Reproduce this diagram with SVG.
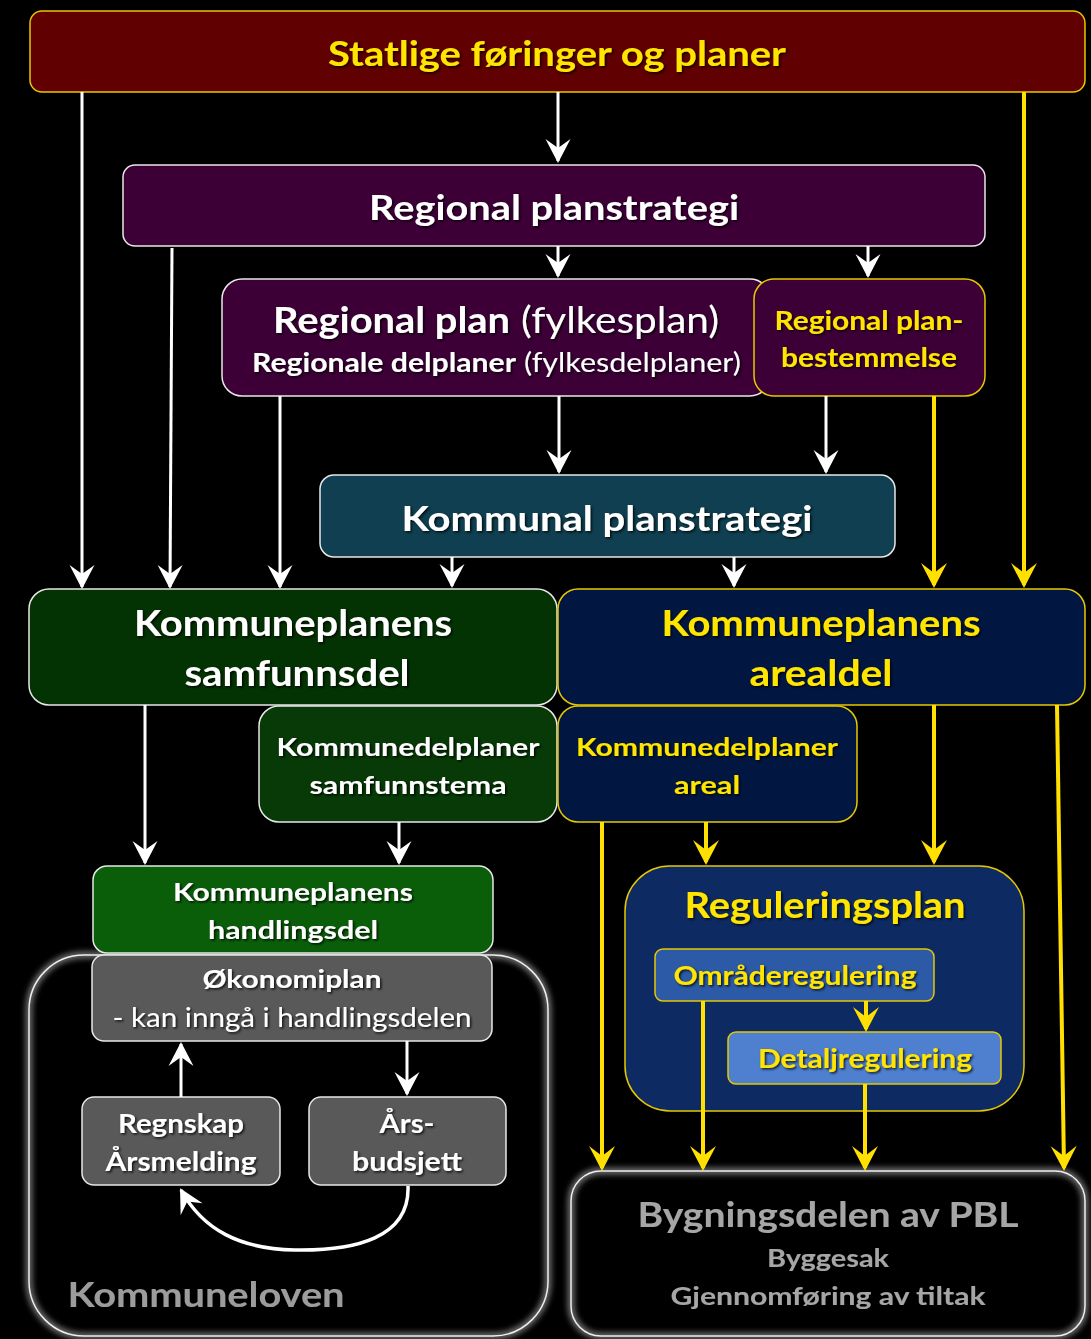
<svg xmlns="http://www.w3.org/2000/svg" width="1091" height="1339" viewBox="0 0 1091 1339">
<defs>
<style>
text{font-family:Lato,"Open Sans","Liberation Sans",sans-serif;text-anchor:middle;filter:url(#sh)}
.b{font-weight:bold}
.n{font-weight:normal}
.w{fill:#ffffff}
.y{fill:#ffe500}
.g{fill:#9c9c9c}
.bw{stroke:#e8e8e8;stroke-width:1.5}
.by{stroke:#e6c800;stroke-width:1.5}
.cw{fill:none;stroke:#ffffff;stroke-width:3}
.cy{fill:none;stroke:#ffe000;stroke-width:4}
</style>
<filter id="sh" x="-5%" y="-20%" width="110%" height="150%">
<feDropShadow dx="1.5" dy="1.5" stdDeviation="1.2" flood-color="#000" flood-opacity="0.8"/>
</filter>
<filter id="glow" x="-10%" y="-10%" width="120%" height="120%">
<feGaussianBlur stdDeviation="3"/>
</filter>
<marker id="aw" viewBox="-28 -15 32 30" refX="-2" refY="0" markerWidth="32" markerHeight="30" markerUnits="userSpaceOnUse" orient="auto">
<path d="M0,0 L-24,-12.5 L-15,0 L-24,12.5 Z" fill="#ffffff"/>
</marker>
<marker id="ay" viewBox="-28 -15 32 30" refX="-3" refY="0" markerWidth="32" markerHeight="30" markerUnits="userSpaceOnUse" orient="auto">
<path d="M0,0 L-25,-13 L-15,0 L-25,13 Z" fill="#ffe000"/>
</marker>
</defs>
<rect x="0" y="0" width="1091" height="1339" fill="#000000"/>

<g id="kommuneloven">
<rect x="29" y="955" width="519" height="381" rx="55" fill="#000"/>
<rect x="29" y="955" width="519" height="381" rx="55" fill="none" stroke="#ffffff" stroke-width="5" opacity="0.6" filter="url(#glow)"/>
<rect x="29" y="955" width="519" height="381" rx="55" fill="none" stroke="#eeeeee" stroke-width="1.5"/>
<text x="206" y="1307" class="b g" font-size="35" textLength="277" lengthAdjust="spacingAndGlyphs">Kommuneloven</text>
</g>

<g id="bygningsdelen">
<rect x="571" y="1171" width="514" height="165" rx="30" fill="#000"/>
<rect x="571" y="1171" width="514" height="165" rx="30" fill="none" stroke="#ffffff" stroke-width="5" opacity="0.6" filter="url(#glow)"/>
<rect x="571" y="1171" width="514" height="165" rx="30" fill="none" stroke="#eeeeee" stroke-width="1.5"/>
<text x="828" y="1227" class="b" fill="#a6a6a6" font-size="35" textLength="381" lengthAdjust="spacingAndGlyphs">Bygningsdelen av PBL</text>
<text x="828" y="1267" class="b" fill="#a6a6a6" font-size="25" textLength="122" lengthAdjust="spacingAndGlyphs">Byggesak</text>
<text x="828" y="1305" class="b" fill="#a6a6a6" font-size="25" textLength="315" lengthAdjust="spacingAndGlyphs">Gjennomføring av tiltak</text>
</g>

<g id="statlige">
<rect x="30" y="11" width="1055" height="81" rx="12" fill="#600000" class="by"/>
<text x="557" y="66" class="b y" font-size="34" textLength="458" lengthAdjust="spacingAndGlyphs">Statlige føringer og planer</text>
</g>

<g id="regional-planstrategi">
<rect x="123" y="165" width="862" height="81" rx="12" fill="#3c0037" class="bw"/>
<text x="554" y="220" class="b w" font-size="34" textLength="370" lengthAdjust="spacingAndGlyphs">Regional planstrategi</text>
</g>

<g id="regional-plan">
<rect x="222" y="279" width="548" height="117" rx="20" fill="#3c0037" class="bw"/>
<text x="273" y="333" class="b w" font-size="37" style="text-anchor:start" textLength="237" lengthAdjust="spacingAndGlyphs">Regional plan</text>
<text x="521" y="333" class="n w" font-size="37" style="text-anchor:start" textLength="198" lengthAdjust="spacingAndGlyphs">(fylkesplan)</text>
<text x="252" y="372" class="b w" font-size="26" style="text-anchor:start" textLength="264" lengthAdjust="spacingAndGlyphs">Regionale delplaner</text>
<text x="524" y="372" class="n w" font-size="26" style="text-anchor:start" textLength="217" lengthAdjust="spacingAndGlyphs">(fylkesdelplaner)</text>
</g>

<g id="regional-planbestemmelse">
<rect x="754" y="279" width="231" height="117" rx="20" fill="#3c0037" class="by"/>
<text x="869" y="330" class="b y" font-size="26" textLength="189" lengthAdjust="spacingAndGlyphs">Regional plan-</text>
<text x="869" y="367" class="b y" font-size="26" textLength="176" lengthAdjust="spacingAndGlyphs">bestemmelse</text>
</g>

<g id="kommunal-planstrategi">
<rect x="320" y="475" width="575" height="82" rx="14" fill="#0f3f50" class="bw"/>
<text x="607" y="531" class="b w" font-size="34" textLength="411" lengthAdjust="spacingAndGlyphs">Kommunal planstrategi</text>
</g>

<g id="samfunnsdel">
<rect x="29" y="589" width="528" height="116" rx="20" fill="#033203" class="bw"/>
<text x="293" y="636" class="b w" font-size="36" textLength="318" lengthAdjust="spacingAndGlyphs">Kommuneplanens</text>
<text x="297" y="686" class="b w" font-size="36" textLength="225" lengthAdjust="spacingAndGlyphs">samfunnsdel</text>
</g>

<g id="arealdel">
<rect x="558" y="589" width="527" height="116" rx="20" fill="#011741" class="by"/>
<text x="821" y="636" class="b y" font-size="36" textLength="319" lengthAdjust="spacingAndGlyphs">Kommuneplanens</text>
<text x="821" y="686" class="b y" font-size="36" textLength="143" lengthAdjust="spacingAndGlyphs">arealdel</text>
</g>

<g id="kommunedelplaner-samfunnstema">
<rect x="259" y="706" width="298" height="116" rx="20" fill="#073a07" class="bw"/>
<text x="408" y="756" class="b w" font-size="25" textLength="263" lengthAdjust="spacingAndGlyphs">Kommunedelplaner</text>
<text x="408" y="794" class="b w" font-size="25" textLength="197" lengthAdjust="spacingAndGlyphs">samfunnstema</text>
</g>

<g id="kommunedelplaner-areal">
<rect x="558" y="706" width="299" height="116" rx="20" fill="#011741" class="by"/>
<text x="707" y="756" class="b y" font-size="25" textLength="262" lengthAdjust="spacingAndGlyphs">Kommunedelplaner</text>
<text x="707" y="794" class="b y" font-size="25" textLength="66" lengthAdjust="spacingAndGlyphs">areal</text>
</g>

<g id="handlingsdel">
<rect x="93" y="866" width="400" height="87" rx="14" fill="#0a5e0a" class="bw"/>
<text x="293" y="901" class="b w" font-size="25" textLength="240" lengthAdjust="spacingAndGlyphs">Kommuneplanens</text>
<text x="293" y="939" class="b w" font-size="25" textLength="170" lengthAdjust="spacingAndGlyphs">handlingsdel</text>
</g>

<g id="okonomiplan">
<rect x="92" y="955" width="400" height="86" rx="12" fill="#595959" class="bw"/>
<text x="292" y="988" class="b w" font-size="25" textLength="179" lengthAdjust="spacingAndGlyphs">Økonomiplan</text>
<text x="292" y="1027" class="n w" font-size="26" textLength="359" lengthAdjust="spacingAndGlyphs">- kan inngå i handlingsdelen</text>
</g>

<g id="regnskap">
<rect x="82" y="1097" width="198" height="88" rx="12" fill="#595959" class="bw"/>
<text x="181" y="1133" class="b w" font-size="26" textLength="126" lengthAdjust="spacingAndGlyphs">Regnskap</text>
<text x="181" y="1171" class="b w" font-size="26" textLength="151" lengthAdjust="spacingAndGlyphs">Årsmelding</text>
</g>

<g id="arsbudsjett">
<rect x="309" y="1097" width="197" height="88" rx="12" fill="#595959" class="bw"/>
<text x="407" y="1133" class="b w" font-size="26" textLength="55" lengthAdjust="spacingAndGlyphs">Års-</text>
<text x="407" y="1171" class="b w" font-size="26" textLength="110" lengthAdjust="spacingAndGlyphs">budsjett</text>
</g>

<g id="reguleringsplan">
<rect x="625" y="866" width="399" height="245" rx="45" fill="#0d2a62" class="by"/>
<text x="825" y="918" class="b y" font-size="36" textLength="281" lengthAdjust="spacingAndGlyphs">Reguleringsplan</text>
</g>

<g id="omraderegulering">
<rect x="655" y="949" width="279" height="52" rx="8" fill="#2c5aa6" class="by"/>
<text x="795" y="985" class="b y" font-size="26" textLength="243" lengthAdjust="spacingAndGlyphs">Områderegulering</text>
</g>

<g id="detaljregulering">
<rect x="728" y="1032" width="273" height="52" rx="8" fill="#4f80cf" class="by"/>
<text x="865" y="1068" class="b y" font-size="26" textLength="214" lengthAdjust="spacingAndGlyphs">Detaljregulering</text>
</g>

<g id="connectors">
<path class="cw" marker-end="url(#aw)" d="M82,92 L82,587"/>
<path class="cw" marker-end="url(#aw)" d="M558,92 L558,161"/>
<path class="cw" marker-end="url(#aw)" d="M172,248 L170,587"/>
<path class="cw" marker-end="url(#aw)" d="M558,246 L558,276"/>
<path class="cw" marker-end="url(#aw)" d="M868,246 L868,276"/>
<path class="cw" marker-end="url(#aw)" d="M280,396 L280,587"/>
<path class="cw" marker-end="url(#aw)" d="M559,396 L559,472"/>
<path class="cw" marker-end="url(#aw)" d="M826,396 L826,472"/>
<path class="cw" marker-end="url(#aw)" d="M452,557 L452,586"/>
<path class="cw" marker-end="url(#aw)" d="M734,557 L734,586"/>
<path class="cw" marker-end="url(#aw)" d="M145,705 L145,863"/>
<path class="cw" marker-end="url(#aw)" d="M399,822 L399,863"/>
<path class="cw" marker-end="url(#aw)" d="M181,1097 L181,1044"/>
<path class="cw" marker-end="url(#aw)" d="M407,1041 L407,1094"/>
<path class="cw" style="stroke-width:3.5" marker-end="url(#aw)" d="M408,1186 C410,1238 355,1251 295,1250 C240,1249 203,1230 181,1190"/>
<path class="cy" marker-end="url(#ay)" d="M1024,92 L1024,585"/>
<path class="cy" marker-end="url(#ay)" d="M934,396 L934,585"/>
<path class="cy" marker-end="url(#ay)" d="M934,705 L934,862"/>
<path class="cy" marker-end="url(#ay)" d="M706,822 L706,862"/>
<path class="cy" marker-end="url(#ay)" d="M602,822 L602,1168"/>
<path class="cy" marker-end="url(#ay)" d="M1057,705 L1064,1168"/>
<path class="cy" marker-end="url(#ay)" d="M866,1001 L866,1029"/>
<path class="cy" marker-end="url(#ay)" d="M703,1001 L703,1168"/>
<path class="cy" marker-end="url(#ay)" d="M865,1084 L865,1168"/>
</g>
</svg>
